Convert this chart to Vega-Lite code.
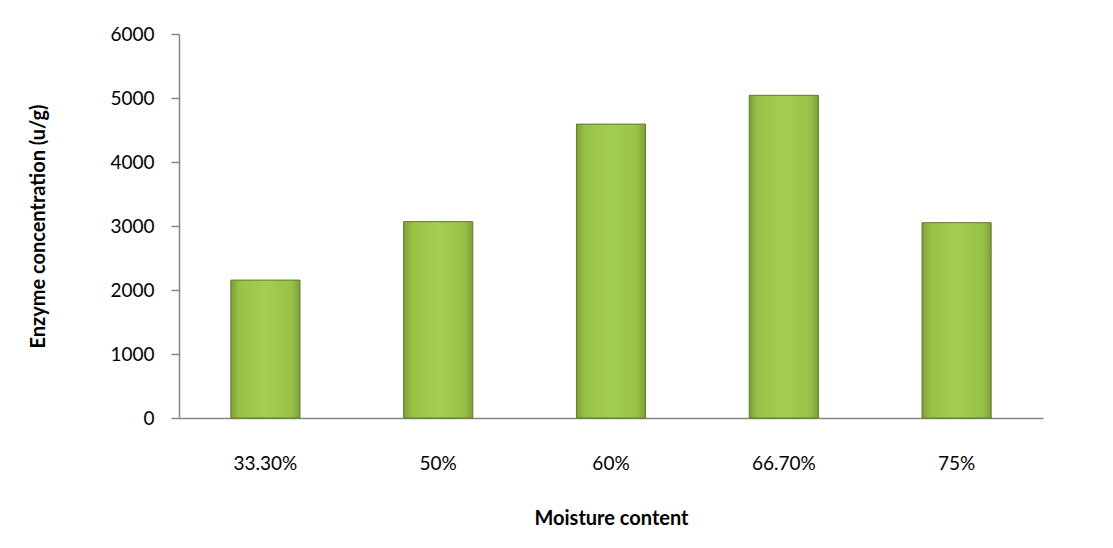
{
  "$schema": "https://vega.github.io/schema/vega-lite/v6.json",
  "autosize": "none",
  "width": 864,
  "height": 384,
  "padding": {"left": 179, "top": 34, "right": 70, "bottom": 130},
  "background": "white",
  "data": {"values": [
    {"moisture": "33.30%", "enzyme": 2155},
    {"moisture": "50%", "enzyme": 3068},
    {"moisture": "60%", "enzyme": 4592},
    {"moisture": "66.70%", "enzyme": 5042},
    {"moisture": "75%", "enzyme": 3052}
  ]},
  "config": {
    "view": {"stroke": null},
    "font": "Lato",
    "axis": {"grid": false, "domainColor": "#868686", "tickColor": "#868686", "labelColor": "#000000", "titleColor": "#000000", "labelFont": "Lato", "titleFont": "Lato", "labelFontSize": 19, "titleFontSize": 20, "titleFontWeight": "bold", "labelFontWeight": "normal", "domainWidth": 1.5, "tickWidth": 1.5}
  },
  "mark": {
    "type": "bar",
    "stroke": "#5e7a25",
    "strokeWidth": 1,
    "fill": {
      "x1": 0, "y1": 0, "x2": 1, "y2": 0,
      "gradient": "linear",
      "stops": [
        {"offset": 0, "color": "#7f9f36"},
        {"offset": 0.12, "color": "#98c148"},
        {"offset": 0.5, "color": "#a3cf51"},
        {"offset": 0.88, "color": "#98c148"},
        {"offset": 1, "color": "#7f9f36"}
      ]
    }
  },
  "encoding": {
    "x": {
      "field": "moisture", "type": "nominal", "sort": null,
      "scale": {"paddingInner": 0.6, "paddingOuter": 0.3},
      "axis": {"title": "Moisture content", "labelAngle": 0, "ticks": false, "tickSize": 0, "labelPadding": 36, "titlePadding": 35}
    },
    "y": {
      "field": "enzyme", "type": "quantitative",
      "scale": {"domain": [0, 6000], "nice": false},
      "axis": {"title": "Enzyme concentration (u/g)", "format": "d", "values": [0, 1000, 2000, 3000, 4000, 5000, 6000], "tickSize": 8, "labelPadding": 17, "titlePadding": 61}
    }
  }
}
